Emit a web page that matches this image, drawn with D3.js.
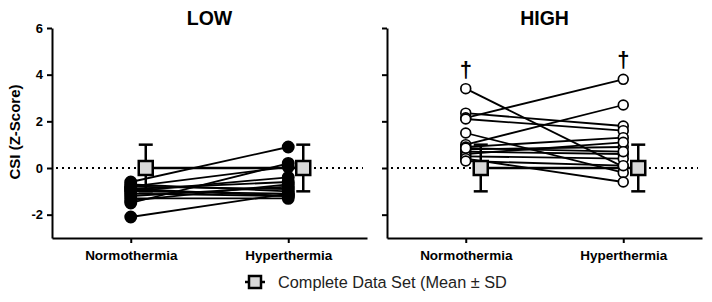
<!DOCTYPE html>
<html>
<head>
<meta charset="utf-8">
<script src="https://cdn.jsdelivr.net/npm/d3@7"></script>
<style>
  body { margin: 0; background: #fff; }
  svg { display: block; font-family: Arial, "Liberation Sans", sans-serif; }
</style>
</head>
<body>
<svg id="chart" width="712" height="302"></svg>
<script>
// categories / groups
const conditions = ['Normothermia', 'Hyperthermia'];
const panels = ['LOW', 'HIGH'];
const yTicks = [-2, 0, 2, 4, 6];

// individual subjects, LOW group (normothermia -> hyperthermia)
const lowNorm  = [-0.6, -2.1, -1.5, -0.8, -1.0, -0.9, -1.2, -0.7, -1.1, -1.3, -0.8, -1.0, -1.4, -0.9];
const lowHyper = [ 0.9, -1.1,  0.2,  0.05, -0.4, -0.6, -0.8, -1.0, -1.2, -1.3, -0.9, -1.1, -0.7, -1.2];

// individual subjects, HIGH group
const highNorm  = [3.4, 2.35, 2.15, 2.1, 1.5, 1.0, 0.9, 0.8, 0.7, 0.6, 0.5, 0.4, 0.3, 0.85];
const highHyper = [0.05, 1.8, 3.8, 1.6, -0.2, 2.7, 1.3, 0.9, 0.6, 1.1, 0.4, -0.6, 0.1, 0.7];

// complete data set mean and SD (z-scores)
const meanVals = [0, 0];
const sdVals = [1, 1];

const svg = d3.select('#chart');
const W = 315, yTop = 28, yBottom = 238;

const y = d3.scaleLinear().domain([-3, 6]).range([yBottom, yTop]);
const x = d3.scalePoint().domain(conditions).range([0, W]).padding(0.5);

const panelX = [52, 387];
const panelData = [[lowNorm, lowHyper], [highNorm, highHyper]];

panels.forEach((name, pi) => {
  const g = svg.append('g').attr('transform', `translate(${panelX[pi]},0)`);

  // dotted zero line
  g.append('line')
    .attr('x1', 4).attr('x2', W - 4)
    .attr('y1', y(0)).attr('y2', y(0))
    .attr('stroke', '#000').attr('stroke-width', 2)
    .attr('stroke-dasharray', '2,4');

  // y axis
  const ya = g.append('g')
    .call(d3.axisLeft(y).tickValues(yTicks).tickSize(5).tickSizeOuter(0)
      .tickFormat(pi === 0 ? (d => String(d)) : ''));
  ya.select('.domain').attr('stroke-width', 2);
  ya.selectAll('.tick line').attr('stroke-width', 2);
  ya.selectAll('text').attr('font-size', 13).attr('font-weight', 'bold')
    .attr('x', -9).attr('fill', '#000');

  // x axis
  const xa = g.append('g').attr('transform', `translate(0,${yBottom})`)
    .call(d3.axisBottom(x).tickSize(5).tickSizeOuter(0));
  xa.select('.domain').attr('stroke-width', 2);
  xa.selectAll('.tick line').attr('stroke-width', 2);
  xa.selectAll('text').attr('font-size', 13.5).attr('font-weight', 'bold')
    .attr('y', 12).attr('fill', '#000');

  // title
  g.append('text')
    .attr('x', W / 2).attr('y', 25)
    .attr('text-anchor', 'middle')
    .attr('font-size', 19.5).attr('font-weight', 'bold')
    .text(name);

  const [a, b] = panelData[pi];
  const subj = a.map((v, i) => [v, b[i]]);

  // subject lines
  g.append('g').selectAll('line')
    .data(subj).enter().append('line')
    .attr('x1', x(conditions[0])).attr('x2', x(conditions[1]))
    .attr('y1', d => y(d[0])).attr('y2', d => y(d[1]))
    .attr('stroke', '#000').attr('stroke-width', 1.8);

  // mean +/- SD
  const off = 15;
  const mg = g.append('g');
  mg.append('line')
    .attr('x1', x(conditions[0]) + off).attr('x2', x(conditions[1]) + off)
    .attr('y1', y(meanVals[0])).attr('y2', y(meanVals[1]))
    .attr('stroke', '#000').attr('stroke-width', 2.5);
  conditions.forEach((c, ci) => {
    const cx = x(c) + off;
    mg.append('line')
      .attr('x1', cx).attr('x2', cx)
      .attr('y1', y(meanVals[ci] - sdVals[ci])).attr('y2', y(meanVals[ci] + sdVals[ci]))
      .attr('stroke', '#000').attr('stroke-width', 2.5);
    [meanVals[ci] - sdVals[ci], meanVals[ci] + sdVals[ci]].forEach(v => {
      mg.append('line')
        .attr('x1', cx - 7).attr('x2', cx + 7)
        .attr('y1', y(v)).attr('y2', y(v))
        .attr('stroke', '#000').attr('stroke-width', 2.5);
    });
    mg.append('rect')
      .attr('x', cx - 7).attr('y', y(meanVals[ci]) - 7)
      .attr('width', 14).attr('height', 14)
      .attr('fill', '#d9d9d9').attr('stroke', '#000').attr('stroke-width', 2.5);
  });

  // subject points
  conditions.forEach((c, ci) => {
    g.append('g').selectAll('circle')
      .data(ci === 0 ? a : b).enter().append('circle')
      .attr('cx', x(c)).attr('cy', d => y(d))
      .attr('r', pi === 0 ? 5.6 : 4.9)
      .attr('fill', pi === 0 ? '#000' : '#fff')
      .attr('stroke', '#000').attr('stroke-width', 1.7);
  });

  // dagger markers on HIGH
  if (pi === 1) {
    conditions.forEach((c, ci) => {
      const maxV = d3.max(ci === 0 ? a : b);
      g.append('text')
        .attr('x', x(c)).attr('y', y(maxV) - 12)
        .attr('text-anchor', 'middle')
        .attr('font-size', 22).attr('font-weight', 'bold')
        .text('\u2020');
    });
  }
});

// y axis title
svg.append('text')
  .attr('transform', `translate(20,${(yTop + yBottom) / 2 - 1}) rotate(-90)`)
  .attr('text-anchor', 'middle')
  .attr('font-size', 15).attr('font-weight', 'bold')
  .text('CSI (Z-Score)');

// legend
const lg = svg.append('g').attr('transform', 'translate(255,282)');
lg.append('line').attr('x1', -10).attr('x2', 10).attr('y1', 0).attr('y2', 0)
  .attr('stroke', '#000').attr('stroke-width', 2.5);
lg.append('rect').attr('x', -6).attr('y', -6).attr('width', 12).attr('height', 12)
  .attr('fill', '#d9d9d9').attr('stroke', '#000').attr('stroke-width', 2.5);
lg.append('text').attr('x', 23).attr('y', 6)
  .attr('font-size', 16.3).attr('fill', '#222')
  .text('Complete Data Set (Mean \u00b1 SD');
</script>
</body>
</html>
